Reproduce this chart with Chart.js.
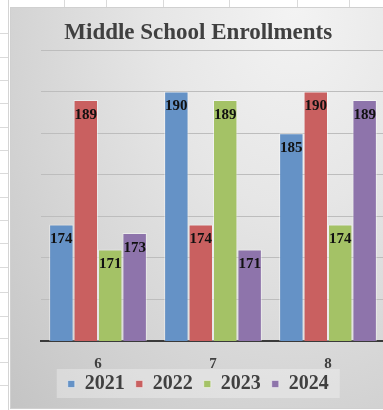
<!DOCTYPE html>
<html>
<head>
<meta charset="utf-8">
<script src="https://cdn.jsdelivr.net/npm/chart.js@4/dist/chart.umd.min.js"></script>
<style>
  html, body { margin: 0; padding: 0; }
  body { width: 383px; height: 410px; overflow: hidden; position: relative; background: #ffffff; }
  .vline { position: absolute; top: 0; width: 1px; height: 7px; background: #dadada; }
  .hline { position: absolute; left: 0; width: 8px; height: 1px; background: #dadada; }
  #sheetEdge { position: absolute; left: 8px; top: 0; width: 1px; height: 410px; background: #d4d4d4; }
  #frame {
    position: absolute; left: 10px; top: 7px; width: 378px; height: 400px;
    border: 1px solid #d0d0d0;
    background: radial-gradient(ellipse farthest-corner at 75% 0%, #f3f3f3 0%, #e6e6e6 35%, #c4c4c4 100%);
  }
  canvas { display: block; }
</style>
</head>
<body>
<div id="sheetEdge"></div>
<div id="frame"><canvas id="c" width="378" height="400"></canvas></div>
<script>
// ---- data ----
const categories = ['6', '7', '8'];
const seriesNames = ['2021', '2022', '2023', '2024'];
const values2021 = [174, 190, 185];
const values2022 = [189, 174, 190];
const values2023 = [171, 189, 174];
const values2024 = [173, 171, 189];
const yTicks = [160, 165, 170, 175, 180, 185, 190, 195];
const chartTitle = 'Middle School Enrollments';

// ---- spreadsheet decoration ----
[64, 106, 163, 229, 297, 349].forEach(x => {
  const d = document.createElement('div'); d.className = 'vline'; d.style.left = x + 'px'; document.body.appendChild(d);
});
[33, 57, 80, 103, 127, 150, 173, 197, 220, 243, 267, 292, 316, 338, 362, 385].forEach(y => {
  const d = document.createElement('div'); d.className = 'hline'; d.style.top = y + 'px'; document.body.appendChild(d);
});

const colors = ['#6592c6', '#c96060', '#a4c266', '#8e74ab'];
const seriesValues = [values2021, values2022, values2023, values2024];
const serif = "'Liberation Serif', 'Times New Roman', serif";

const barLabels = {
  id: 'barLabels',
  afterDatasetsDraw(chart) {
    const ctx = chart.ctx;
    ctx.save();
    ctx.font = 'bold 15px ' + serif;
    ctx.fillStyle = '#111111';
    ctx.textAlign = 'center';
    ctx.textBaseline = 'middle';
    chart.data.datasets.forEach((ds, i) => {
      const meta = chart.getDatasetMeta(i);
      meta.data.forEach((bar, j) => {
        ctx.fillText(String(ds.data[j]), bar.x, bar.y + 15);
      });
    });
    ctx.restore();
  }
};

const legendBox = {
  id: 'legendBox',
  beforeDraw(chart) {
    const lg = chart.legend;
    if (!lg || !lg.legendHitBoxes || !lg.legendHitBoxes.length) return;
    const hb = lg.legendHitBoxes;
    const first = hb[0], last = hb[hb.length - 1];
    const x0 = first.left - 11, x1 = last.left + last.width + 11;
    const y0 = first.top - 5, y1 = first.top + 24;
    const ctx = chart.ctx;
    ctx.save();
    ctx.fillStyle = 'rgba(255,255,255,0.3)';
    ctx.fillRect(x0, y0, x1 - x0, y1 - y0);
    ctx.restore();
  }
};

new Chart(document.getElementById('c'), {
  type: 'bar',
  data: {
    labels: categories,
    datasets: seriesNames.map((n, i) => ({
      label: n,
      data: seriesValues[i],
      backgroundColor: colors[i],
      borderColor: 'rgba(255,255,255,0.45)',
      borderWidth: 1,
      barPercentage: 1.0,
      categoryPercentage: 0.85
    }))
  },
  options: {
    responsive: false,
    devicePixelRatio: 1,
    animation: false,
    layout: { padding: { left: 0, right: 3.5, top: 0, bottom: 4 } },
    plugins: {
      title: {
        display: true,
        text: chartTitle,
        color: '#404040',
        font: { family: serif, size: 23, weight: 'bold' },
        padding: { top: 11.5, bottom: 2.9 }
      },
      legend: {
        position: 'bottom',
        labels: {
          boxWidth: 7,
          boxHeight: 7,
          padding: 11,
          color: '#404040',
          font: { family: serif, size: 20, weight: 'bold' }
        }
      },
      tooltip: { enabled: false }
    },
    scales: {
      x: {
        grid: { display: false, drawTicks: false },
        border: { display: true, color: '#3a3a3a', width: 2 },
        ticks: {
          color: '#404040',
          padding: 14,
          font: { family: serif, size: 15, weight: 'bold' }
        },
        afterFit(s) {
          s.height = 22;
          s._computeLabelArea = () => undefined;
        }
      },
      y: {
        min: yTicks[0],
        max: yTicks[yTicks.length - 1],
        afterBuildTicks(s) { s.ticks = yTicks.map(v => ({ value: v })); },
        ticks: { display: false },
        grid: { color: '#bdbdbd', lineWidth: 1, drawTicks: false },
        border: { display: false },
        afterFit(s) { s.width = 29.5; }
      }
    }
  },
  plugins: [barLabels, legendBox]
});
</script>
</body>
</html>
